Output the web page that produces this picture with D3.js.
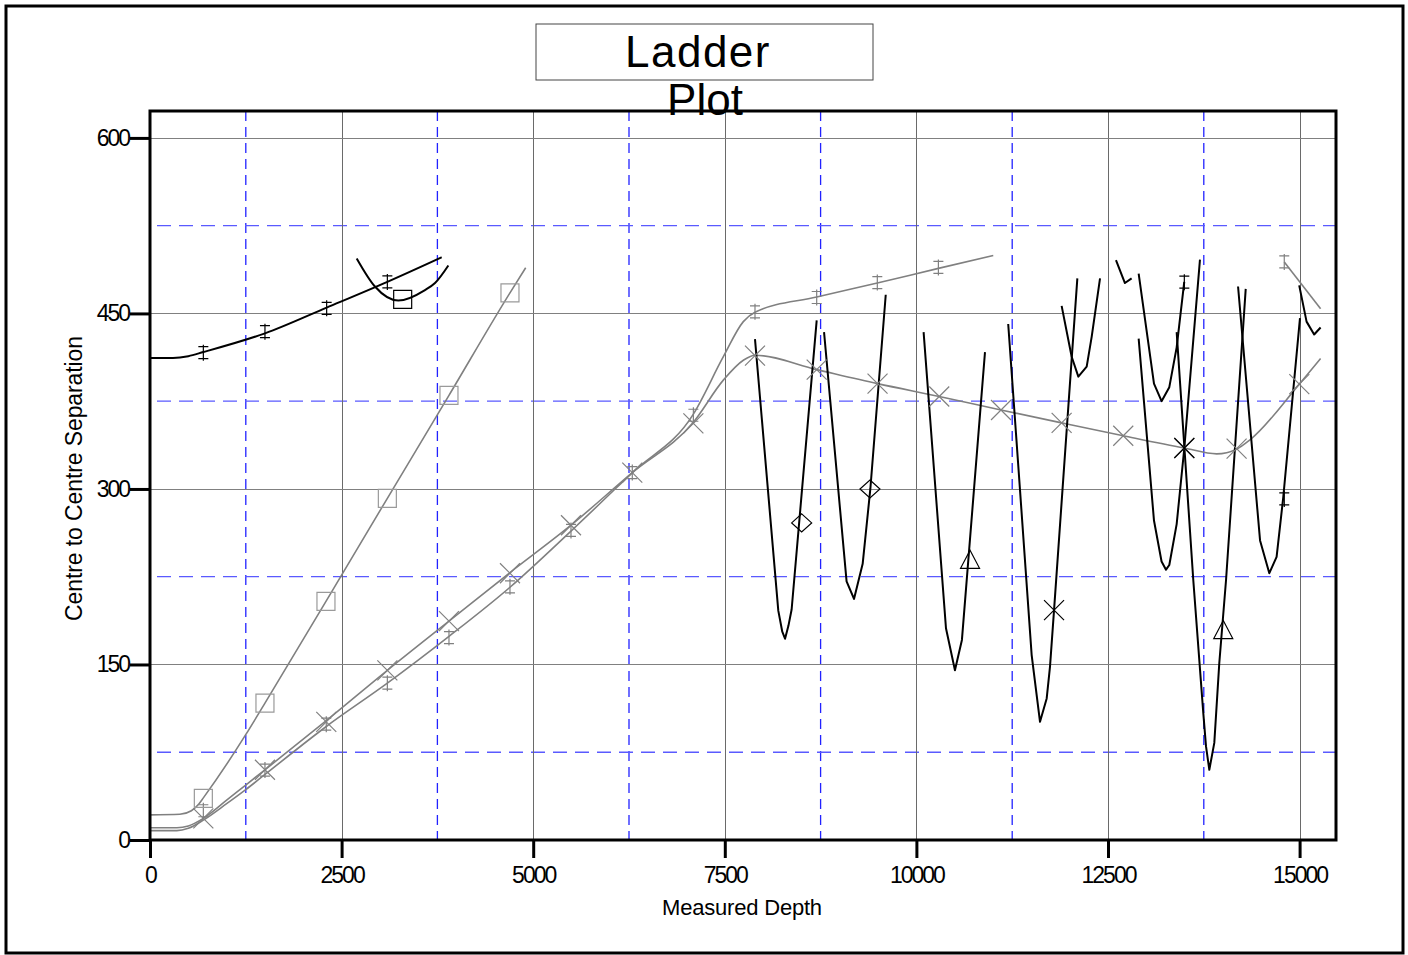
<!DOCTYPE html>
<html>
<head>
<meta charset="utf-8">
<script src="https://cdn.jsdelivr.net/npm/d3@7"></script>
<style>
  body { margin: 0; background: #fff; }
  svg { display: block; font-family: "Liberation Sans", Arial, sans-serif; }
</style>
</head>
<body>
<svg id="chart"></svg>
<script>
// ---------------- DATA ----------------
const xTicks = [0, 2500, 5000, 7500, 10000, 12500, 15000];
const yTicks = [0, 150, 300, 450, 600];
const xMinor = [1250, 3750, 6250, 8750, 11250, 13750];
const yMinor = [75, 225, 375, 525];

// offset wells (grey)
const greyCrossLine = [[0,10.5],[350,10.5],[500,12],[696,18.5],[1000,34],[1249,47],[1500,60],[2300,102],
  [3097,145],[3901,187],[4697,228.5],[5493,269],[6293,314],[7090,357],[7481,393],[7742,410],
  [7894,414.3],[8699,402],[9493,390],[10298,379],[11104,367.5],[11895,356.5],[12699,345.5],[13496,335],
  [13918,330],[14178,334],[14353,342],[14996,389.6],[15274,411.5]];
const greyCrossMarks = [[696,18.5],[1500,60],[2300,101],[3097,145],[3901,187],[4697,228],[5493,269],
  [6293,314],[7090,356],[7894,414],[8699,402],[9493,390],[10298,379],[11104,367.5],[11895,356.5],
  [12699,345.5],[13496,335],[14178,334.5],[14996,389.6]];

const greyDaggerLine = [[0,8],[350,8],[500,10],[696,17],[1000,31],[1249,43],[1500,56],[2300,97],
  [3097,134],[3901,174],[4697,216],[5493,264],[6293,314],[7090,364],[7481,413],[7742,443],
  [7894,451],[8699,464],[9490,476],[10287,488.5],[11003,499.5]];
const greyDaggerLine2 = [[14800,494],[15274,454]];
const greyDaggerMarks = [[696,25],[1500,59.8],[2300,99],[3097,134],[3901,173],[4697,216.4],[5493,264.6],
  [6293,314],[7090,363],[7894,451.4],[8699,463.6],[9490,476.4],[10287,489.3],[14800,494]];

const greySquareLine = [[0,21.5],[390,22],[540,25],[640,31],[696,36],[1249,90],[1500,117],
  [2296,204],[3097,292],[3901,380],[4697,467.6],[4902,489]];
const greySquareMarks = [[696,35.6],[1500,117],[2296,204],[3097,292],[3901,380],[4697,467.6]];

// reference / other wells (black)
const blackSmooth = [
  [[0,412],[300,412],[500,413.5],[696,417],[1500,433],[2305,455],[3097,477],[3806,498]],
  [[2697,497],[2935,473],[3240,461],[3588,470],[3719,476],[3893,491]]
];
const blackSpikes = [
  [[7894,428],[8198,196],[8250,178],[8286,172],[8330,183],[8372,197],[8699,444]],
  [[8795,434],[9089,221],[9186,206],[9299,236],[9399,300],[9600,466]],
  [[10094,434],[10386,181],[10503,145],[10594,171],[10895,417]],
  [[11198,441],[11352,299],[11504,158],[11613,101],[11700,121],[11743,148],[11796,196.5],[12100,480]],
  [[11895,456.5],[12026,413],[12113,396],[12222,404.5],[12287,430],[12396,480]],
  [[12604,495.5],[12721,476],[12808,480]],
  [[12900,484],[13100,390],[13199,375],[13300,387],[13396,421],[13495,477]],
  [[12900,428.5],[13100,273],[13199,238],[13257,231],[13300,235],[13396,270],[13496,335],[13700,496]],
  [[13396,434],[13613,222],[13744,108],[13779,80],[13822,60],[13887,83],[13952,151],[14040,222],[14297,471]],
  [[14197,473],[14484,256],[14605,228],[14700,242],[14787,293],[15005,446]],
  [[14995,474],[15091,443],[15190,432],[15274,438]]
];
const blackDaggerMarks = [[696,416.5],[1500,434.4],[2305,454.4],[3097,476.9],[13496,476.7],[14800,291.5]];
const blackSquareMarks = [[3297,462]];
const blackDiamondMarks = [[8503,271],[9394,300]];
const blackTriangleMarks = [[10700,239],[14004,179]];
const blackCrossMarks = [[11796,196.5],[13496,335]];

// ---------------- LAYOUT ----------------
const width = 1408, height = 955;
const plot = { left: 150, right: 1336, top: 111, bottom: 840 };
const GREY = "#808080";

const svg = d3.select("#chart").attr("width", width).attr("height", height);

const x = d3.scaleLinear().domain([0, 15475]).range([plot.left, plot.right]);
const y = d3.scaleLinear().domain([0, 623]).range([plot.bottom, plot.top]);
const px = v => Math.round(v) + 0.5; // crisp 1px lines

// outer frame
svg.append("rect")
  .attr("x", 6).attr("y", 6).attr("width", 1397).attr("height", 947)
  .attr("fill", "#fff").attr("stroke", "#000").attr("stroke-width", 3);

// minor grid (blue dashed)
svg.append("g").selectAll("line").data(xMinor).join("line")
  .attr("x1", d => x(d)).attr("x2", d => x(d))
  .attr("y1", plot.top).attr("y2", plot.bottom)
  .attr("stroke", "#2222ff").attr("stroke-width", 1.3).attr("stroke-dasharray", "10,6");
svg.append("g").selectAll("line").data(yMinor).join("line")
  .attr("x1", plot.left + 7).attr("x2", plot.right)
  .attr("y1", d => y(d)).attr("y2", d => y(d))
  .attr("stroke", "#5a5aff").attr("stroke-width", 1.3).attr("stroke-dasharray", "14,8");

// major grid (grey)
svg.append("g").selectAll("line").data(xTicks.slice(1)).join("line")
  .attr("x1", d => px(x(d))).attr("x2", d => px(x(d)))
  .attr("y1", plot.top).attr("y2", plot.bottom)
  .attr("stroke", "#6a6a6a").attr("stroke-width", 1);
svg.append("g").selectAll("line").data(yTicks.slice(1)).join("line")
  .attr("x1", plot.left).attr("x2", plot.right)
  .attr("y1", d => px(y(d))).attr("y2", d => px(y(d)))
  .attr("stroke", "#808080").attr("stroke-width", 1);

// axes
const xAxis = svg.append("g")
  .attr("transform", `translate(0,${plot.bottom})`)
  .call(d3.axisBottom(x).tickValues(xTicks).tickSize(18).tickPadding(9).tickFormat(d3.format("d")));
const yAxis = svg.append("g")
  .attr("transform", `translate(${plot.left},0)`)
  .call(d3.axisLeft(y).tickValues(yTicks).tickSize(20).tickPadding(1).tickFormat(d3.format("d")));
[xAxis, yAxis].forEach(g => {
  g.select(".domain").remove();
  g.selectAll(".tick line").attr("stroke", "#000").attr("stroke-width", 3);
  g.selectAll(".tick text")
    .attr("fill", "#000")
    .style("font-size", "23px")
    .style("letter-spacing", "-2px")
    .style("font-family", "'Liberation Sans', Arial, sans-serif");
});

// axis titles
svg.append("text")
  .attr("x", 742).attr("y", 915)
  .attr("text-anchor", "middle")
  .style("font-size", "22px").style("letter-spacing", "-0.2px")
  .text("Measured Depth");
svg.append("text")
  .attr("transform", `translate(82,${(plot.top + plot.bottom) / 2 + 3}) rotate(-90)`)
  .attr("text-anchor", "middle")
  .style("font-size", "23px").style("letter-spacing", "-0.1px")
  .text("Centre to Centre Separation");

// data layer
svg.append("clipPath").attr("id", "clip")
  .append("rect")
  .attr("x", plot.left).attr("y", plot.top)
  .attr("width", plot.right - plot.left).attr("height", plot.bottom - plot.top);
const g = svg.append("g").attr("clip-path", "url(#clip)");

const smooth = d3.line().x(d => x(d[0])).y(d => y(d[1])).curve(d3.curveMonotoneX);
const straight = d3.line().x(d => x(d[0])).y(d => y(d[1]));

[greyCrossLine, greyDaggerLine, greyDaggerLine2, greySquareLine].forEach(s => {
  g.append("path").datum(s).attr("d", smooth)
    .attr("fill", "none").attr("stroke", GREY).attr("stroke-width", 1.6);
});
blackSmooth.forEach(s => {
  g.append("path").datum(s).attr("d", smooth)
    .attr("fill", "none").attr("stroke", "#000").attr("stroke-width", 2);
});
blackSpikes.forEach(s => {
  g.append("path").datum(s).attr("d", straight)
    .attr("fill", "none").attr("stroke", "#000").attr("stroke-width", 2)
    .attr("stroke-linejoin", "round");
});

// marker shapes
const shapes = {
  cross: "M-10,-10L10,10M-10,10L10,-10",
  dagger: "M0,-8V8M-5,-6H5M-5,6H5",
  square: "M-9,-9H9V9H-9Z",
  diamond: "M0,-9L10,0L0,9L-10,0Z",
  triangle: "M0,-10L9.5,8H-9.5Z"
};
function marks(data, shape, colour) {
  g.append("g").selectAll("path").data(data).join("path")
    .attr("transform", d => `translate(${x(d[0])},${y(d[1])})`)
    .attr("d", shapes[shape])
    .attr("fill", "none").attr("stroke", colour).attr("stroke-width", 1.2);
}
marks(greyCrossMarks, "cross", GREY);
marks(greyDaggerMarks, "dagger", GREY);
marks(greySquareMarks, "square", "#9a9a9a");
marks(blackDaggerMarks, "dagger", "#000");
marks(blackSquareMarks, "square", "#000");
marks(blackDiamondMarks, "diamond", "#000");
marks(blackTriangleMarks, "triangle", "#000");
marks(blackCrossMarks, "cross", "#000");

// plot frame
svg.append("rect")
  .attr("x", plot.left).attr("y", plot.top)
  .attr("width", plot.right - plot.left).attr("height", plot.bottom - plot.top)
  .attr("fill", "none").attr("stroke", "#000").attr("stroke-width", 3);

// title box
svg.append("rect")
  .attr("x", 536).attr("y", 24).attr("width", 337).attr("height", 56)
  .attr("fill", "#fff").attr("stroke", "#444").attr("stroke-width", 1);
svg.append("text")
  .attr("x", 698).attr("y", 67).attr("text-anchor", "middle")
  .style("font-size", "44px").style("letter-spacing", "1.5px")
  .text("Ladder");
svg.append("text")
  .attr("x", 705).attr("y", 115).attr("text-anchor", "middle")
  .style("font-size", "44px")
  .text("Plot");
</script>
</body>
</html>
